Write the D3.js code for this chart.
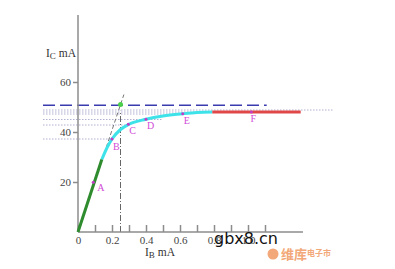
<!DOCTYPE html>
<html>
<head>
<meta charset="utf-8">
<script src="https://cdn.jsdelivr.net/npm/d3@7"></script>
<style>
  body { margin: 0; background: #fff; }
  svg { display: block; }
  .tick text { font-family: "Liberation Serif", "DejaVu Serif", serif; }
</style>
</head>
<body>
<div id="chart"></div>
<script>
// datos (IB en mA, IC en mA)
const linearPart = [[0, 0], [0.14, 29]];
const curvePart = [[0.14, 29], [0.17, 33.6], [0.2, 37.2], [0.25, 41], [0.3, 43.1],
                   [0.4, 45.1], [0.5, 46.4], [0.616, 47.3], [0.7, 47.8], [0.79, 48]];
const flatPart = [[0.79, 48], [1.31, 48]];
const pointNames = ["A", "B", "C", "D", "E", "F"];
const pointIB = [0.09, 0.2, 0.296, 0.4, 0.616, 1.02];
const pointIC = [19.9, 37.2, 43.1, 45.1, 47.3, 48];
const tangentLine = [[0.13, 26.5], [0.27, 55]];
const satPoint = [0.25, 51];
const satLevel = 50.7;
const guideLevels = [48.8, 48, 47.2, 45, 42.8, 37.2];
const guideEnds = [1.5, 1.31, 0.62, 0.5, 0.3, 0.2];
const xTicks = [0, 0.1, 0.2, 0.3, 0.4, 0.5, 0.6, 0.7, 0.8, 0.9, 1.0, 1.1];
const xTickLabels = ["0", "", "0.2", "", "0.4", "", "0.6", "", "0.8", "", "1.0", ""];
const yTicks = [20, 40, 60];

const width = 395, height = 269;

const svg = d3.select("#chart").append("svg")
  .attr("width", width)
  .attr("height", height);

// escalas
const x = d3.scaleLinear().domain([0, 1.3235]).range([78, 303]);
const y = d3.scaleLinear().domain([0, 86.8]).range([232, 15]);

const line = d3.line().x(d => x(d[0])).y(d => y(d[1]));
const smooth = d3.line().x(d => x(d[0])).y(d => y(d[1])).curve(d3.curveMonotoneX);

const leftEdge = x.invert(43);

// lineas guia punteadas
svg.selectAll(".guide")
  .data(guideLevels)
  .enter().append("line")
  .attr("x1", x(leftEdge))
  .attr("x2", (d, i) => x(guideEnds[i]))
  .attr("y1", d => y(d))
  .attr("y2", d => y(d))
  .attr("stroke", "#9c9cc4")
  .attr("stroke-width", 0.8)
  .attr("stroke-dasharray", "1.5,1.5");

// linea de saturacion
svg.append("line")
  .attr("x1", x(leftEdge)).attr("x2", x(1.11))
  .attr("y1", y(satLevel)).attr("y2", y(satLevel))
  .attr("stroke", "#3b3bb0")
  .attr("stroke-width", 1.6)
  .attr("stroke-dasharray", "12,5");

// vertical punto-raya
svg.append("line")
  .attr("x1", x(satPoint[0])).attr("x2", x(satPoint[0]))
  .attr("y1", y(0)).attr("y2", y(48.5))
  .attr("stroke", "#666")
  .attr("stroke-width", 1)
  .attr("stroke-dasharray", "6,2,1,2");

// tangente
svg.append("path")
  .datum(tangentLine)
  .attr("d", line)
  .attr("fill", "none")
  .attr("stroke", "#777")
  .attr("stroke-width", 1)
  .attr("stroke-dasharray", "4,2.5");

// ejes
const xAxis = d3.axisBottom(x)
  .tickValues(xTicks)
  .tickSizeInner(-7)
  .tickSizeOuter(0)
  .tickPadding(10)
  .tickFormat((d, i) => xTickLabels[i]);

const gx = svg.append("g")
  .attr("transform", `translate(0,${y(0)})`)
  .call(xAxis);
gx.select(".domain").attr("d", `M${x(0)},0H303`);

const yAxis = d3.axisLeft(y)
  .tickValues(yTicks)
  .tickSize(5)
  .tickPadding(2);

const gy = svg.append("g")
  .attr("transform", `translate(${x(0)},0)`)
  .call(yAxis);
gy.select(".domain").attr("d", `M0,${y(0)}V15`);

[gx, gy].forEach(g => {
  g.selectAll(".domain, .tick line").attr("stroke", "#8c8c8c").attr("stroke-width", 1.5);
  g.selectAll(".tick text").attr("fill", "#444").attr("font-size", 11);
});
gx.selectAll(".tick text").attr("dy", "0.2em");

// curva caracteristica
svg.append("path").datum(curvePart).attr("d", smooth)
  .attr("fill", "none").attr("stroke", "#3ee3ea").attr("stroke-width", 3);
svg.append("path").datum(linearPart).attr("d", line)
  .attr("fill", "none").attr("stroke", "#2e8b2e").attr("stroke-width", 3);
svg.append("path").datum(flatPart).attr("d", line)
  .attr("fill", "none").attr("stroke", "#e04848").attr("stroke-width", 3);

// punto de saturacion
svg.append("circle")
  .attr("cx", x(satPoint[0])).attr("cy", y(satPoint[1]))
  .attr("r", 2.5).attr("fill", "#4cd04c");

// puntos A-F
const pts = svg.selectAll(".pt")
  .data(pointNames)
  .enter().append("g");
pts.append("circle")
  .attr("cx", (d, i) => x(pointIB[i]))
  .attr("cy", (d, i) => y(pointIC[i]))
  .attr("r", 1.5)
  .attr("fill", "#c23cc8");
pts.append("text")
  .attr("x", (d, i) => x(pointIB[i]) + (i === 0 ? 4 : i === 5 ? -1 : 1))
  .attr("y", (d, i) => y(pointIC[i]) + (i === 0 ? 9 : i === 1 ? 11 : 10))
  .attr("font-family", "Liberation Serif, serif")
  .attr("font-size", 10)
  .attr("fill", "#d24ad8")
  .text(d => d);

// titulos de ejes
const ylab = svg.append("text")
  .attr("x", 46).attr("y", 57)
  .attr("font-family", "Liberation Serif, serif")
  .attr("font-size", 11.5)
  .attr("fill", "#333");
ylab.append("tspan").text("I");
ylab.append("tspan").attr("font-size", 9).attr("dy", 2).text("C");
ylab.append("tspan").attr("dy", -2).text(" mA");

const xlab = svg.append("text")
  .attr("x", 145).attr("y", 256)
  .attr("font-family", "Liberation Serif, serif")
  .attr("font-size", 11.5)
  .attr("fill", "#333");
xlab.append("tspan").text("I");
xlab.append("tspan").attr("font-size", 9).attr("dy", 2).text("B");
xlab.append("tspan").attr("dy", -2).text("   mA");

// marcas de agua
svg.append("text")
  .attr("x", 214).attr("y", 244)
  .attr("font-family", "DejaVu Sans, sans-serif")
  .attr("font-size", 16)
  .attr("fill", "#111")
  .text("gbx8.cn");

svg.append("circle")
  .attr("cx", 273).attr("cy", 254).attr("r", 5.5)
  .attr("fill", "#f2a878");
const logo = svg.append("text")
  .attr("x", 281).attr("y", 259)
  .attr("font-family", "Noto Sans CJK SC, sans-serif")
  .attr("font-weight", "bold")
  .attr("fill", "#f2a878");
logo.append("tspan").attr("font-size", 13).text("维库");
logo.append("tspan").attr("font-size", 8).attr("dy", -3).text("电子市");
</script>
</body>
</html>
